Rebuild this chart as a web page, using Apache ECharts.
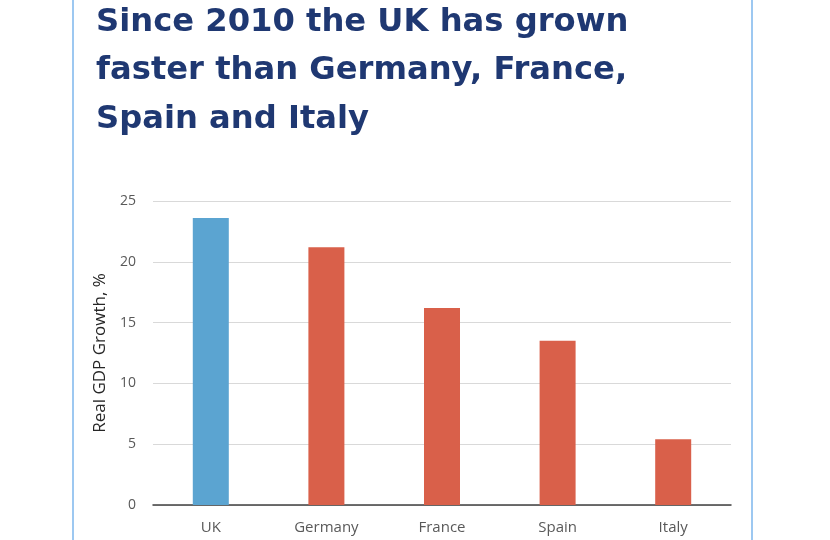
<!DOCTYPE html>
<html><head><meta charset="utf-8">
<script src="https://cdn.jsdelivr.net/npm/echarts@6/dist/echarts.min.js"></script>
<style>html,body{margin:0;padding:0;background:#fff}#c{width:830px;height:540px}</style>
</head><body><div id="c"></div>
<script>
const titleText = 'Since 2010 the UK has grown\nfaster than Germany, France,\nSpain and Italy';
const categories = ['UK', 'Germany', 'France', 'Spain', 'Italy'];
const growth = [23.6, 21.2, 16.2, 13.5, 5.4];
const yTicks = [0, 5, 10, 15, 20, 25];
const yAxisName = 'Real GDP Growth, %';
const ukColor = '#5ba4d1';
const otherColor = '#d9604a';

const chart = echarts.init(document.getElementById('c'));
chart.setOption({
  animation: false,
  backgroundColor: '#fff',
  title: {
    text: titleText,
    left: 91, top: -7,
    textStyle: { fontFamily: 'DejaVu Sans', fontWeight: 'bold', fontSize: 32.2, lineHeight: 48.5, color: '#1f3872' }
  },
  graphic: [
    { type: 'line', shape: { x1: 73, y1: 0, x2: 73, y2: 540 }, style: { stroke: '#7db6ec', lineWidth: 1.5 } },
    { type: 'line', shape: { x1: 752, y1: 0, x2: 752, y2: 540 }, style: { stroke: '#7db6ec', lineWidth: 1.5 } }
  ],
  grid: { left: 153, right: 99, top: 201, bottom: 35, containLabel: false },
  xAxis: {
    type: 'category', data: categories,
    axisLine: { lineStyle: { color: '#404040', width: 1.5 } },
    axisTick: { show: false },
    axisLabel: { color: '#595959', fontFamily: 'Open Sans', fontSize: 15, margin: 15 }
  },
  yAxis: {
    type: 'value', min: yTicks[0], max: yTicks[yTicks.length - 1], interval: 5,
    name: yAxisName, nameLocation: 'middle', nameGap: 42,
    nameTextStyle: { color: '#262626', fontFamily: 'Open Sans', fontSize: 17 },
    axisLine: { show: false }, axisTick: { show: false },
    axisLabel: { color: '#595959', fontFamily: 'Open Sans', fontSize: 14, margin: 17 },
    splitLine: { lineStyle: { color: '#d9d9d9', width: 1 } }
  },
  series: [{
    type: 'bar', barWidth: 36,
    data: growth.map((v, i) => ({ value: v, itemStyle: { color: i === 0 ? ukColor : otherColor } }))
  }]
});
</script></body></html>
